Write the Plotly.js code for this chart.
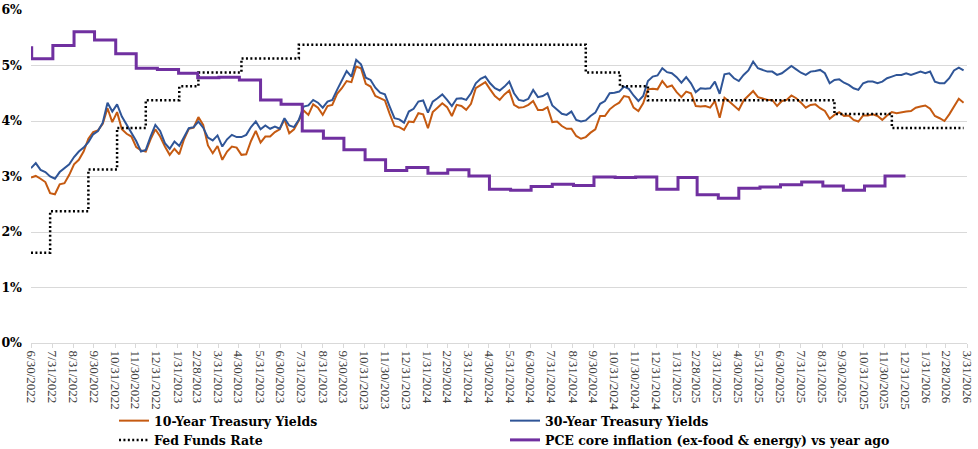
<!DOCTYPE html>
<html>
<head>
<meta charset="utf-8">
<script src="https://cdn.plot.ly/plotly-3.0.1.min.js"></script>
<style>html,body{margin:0;padding:0;background:#fff;}#chart{width:978px;height:449px;}</style>
</head>
<body>
<div id="chart"></div>
<script>
// Month-end tick labels (category text of the x axis)
const tickLabels = ['6/30/2022','7/31/2022','8/31/2022','9/30/2022','10/31/2022','11/30/2022','12/31/2022',
'1/31/2023','2/28/2023','3/31/2023','4/30/2023','5/31/2023','6/30/2023','7/31/2023','8/31/2023','9/30/2023','10/31/2023','11/30/2023','12/31/2023',
'1/31/2024','2/29/2024','3/31/2024','4/30/2024','5/31/2024','6/30/2024','7/31/2024','8/31/2024','9/30/2024','10/31/2024','11/30/2024','12/31/2024',
'1/31/2025','2/28/2025','3/31/2025','4/30/2025','5/31/2025','6/30/2025','7/31/2025','8/31/2025','9/30/2025','10/31/2025','11/30/2025','12/31/2025',
'1/31/2026','2/28/2026','3/31/2026'];

// Weekly observation dates for the Treasury yields
const yieldDates = [
'2022-06-30','2022-07-07','2022-07-14','2022-07-21','2022-07-28','2022-08-04','2022-08-11','2022-08-18','2022-08-25','2022-09-01',
'2022-09-08','2022-09-15','2022-09-22','2022-09-29','2022-10-06','2022-10-13','2022-10-20','2022-10-27','2022-11-03','2022-11-10',
'2022-11-17','2022-11-24','2022-12-01','2022-12-08','2022-12-15','2022-12-22','2022-12-29','2023-01-05','2023-01-12','2023-01-19',
'2023-01-26','2023-02-02','2023-02-09','2023-02-16','2023-02-23','2023-03-02','2023-03-09','2023-03-16','2023-03-23','2023-03-30',
'2023-04-06','2023-04-13','2023-04-20','2023-04-27','2023-05-04','2023-05-11','2023-05-18','2023-05-25','2023-06-01','2023-06-08',
'2023-06-15','2023-06-22','2023-06-29','2023-07-06','2023-07-13','2023-07-20','2023-07-27','2023-08-03','2023-08-10','2023-08-17',
'2023-08-24','2023-08-31','2023-09-07','2023-09-14','2023-09-21','2023-09-28','2023-10-05','2023-10-12','2023-10-19','2023-10-26',
'2023-11-02','2023-11-09','2023-11-16','2023-11-23','2023-11-30','2023-12-07','2023-12-14','2023-12-21','2023-12-28','2024-01-04',
'2024-01-11','2024-01-18','2024-01-25','2024-02-01','2024-02-08','2024-02-15','2024-02-22','2024-02-29','2024-03-07','2024-03-14',
'2024-03-21','2024-03-28','2024-04-04','2024-04-11','2024-04-18','2024-04-25','2024-05-02','2024-05-09','2024-05-16','2024-05-23',
'2024-05-30','2024-06-06','2024-06-13','2024-06-20','2024-06-27','2024-07-04','2024-07-11','2024-07-18','2024-07-25','2024-08-01',
'2024-08-08','2024-08-15','2024-08-22','2024-08-29','2024-09-05','2024-09-12','2024-09-19','2024-09-26','2024-10-03','2024-10-10',
'2024-10-17','2024-10-24','2024-10-31','2024-11-07','2024-11-14','2024-11-21','2024-11-28','2024-12-05','2024-12-12','2024-12-19',
'2024-12-26','2025-01-02','2025-01-09','2025-01-16','2025-01-23','2025-01-30','2025-02-06','2025-02-13','2025-02-20','2025-02-27',
'2025-03-06','2025-03-13','2025-03-20','2025-03-27','2025-04-03','2025-04-10','2025-04-17','2025-04-24','2025-05-01','2025-05-08',
'2025-05-15','2025-05-22','2025-05-29','2025-06-05','2025-06-12','2025-06-19','2025-06-26','2025-07-03','2025-07-10','2025-07-17',
'2025-07-24','2025-07-31','2025-08-07','2025-08-14','2025-08-21','2025-08-28','2025-09-04','2025-09-11','2025-09-18','2025-09-25',
'2025-10-02','2025-10-09','2025-10-16','2025-10-23','2025-10-30','2025-11-06','2025-11-13','2025-11-20','2025-11-27','2025-12-04',
'2025-12-11','2025-12-18','2025-12-25','2026-01-01','2026-01-08','2026-01-15','2026-01-22','2026-01-29','2026-02-05','2026-02-12',
'2026-02-19','2026-02-26','2026-03-05','2026-03-12','2026-03-19','2026-03-26'];

const tenYear = [
2.98,3.01,2.96,2.90,2.70,2.68,2.86,2.88,3.03,3.22,
3.30,3.45,3.68,3.80,3.83,3.95,4.23,3.98,4.16,3.85,
3.77,3.72,3.53,3.47,3.45,3.67,3.85,3.72,3.54,3.39,
3.50,3.40,3.67,3.86,3.88,4.07,3.93,3.56,3.42,3.55,
3.30,3.45,3.54,3.52,3.39,3.40,3.64,3.82,3.61,3.72,
3.72,3.80,3.85,4.03,3.78,3.85,4.01,4.19,4.11,4.30,
4.24,4.11,4.27,4.29,4.49,4.59,4.72,4.70,4.98,4.95,
4.67,4.62,4.45,4.41,4.37,4.13,3.91,3.89,3.84,3.99,
3.98,4.14,4.12,3.87,4.16,4.24,4.32,4.25,4.09,4.29,
4.27,4.20,4.31,4.59,4.64,4.70,4.57,4.45,4.38,4.48,
4.55,4.29,4.24,4.25,4.29,4.36,4.20,4.20,4.25,3.98,
3.99,3.91,3.86,3.86,3.73,3.68,3.71,3.79,3.85,4.09,
4.09,4.21,4.28,4.33,4.45,4.43,4.24,4.18,4.32,4.57,
4.58,4.57,4.72,4.61,4.64,4.52,4.43,4.53,4.50,4.27,
4.26,4.27,4.24,4.36,4.06,4.42,4.35,4.28,4.20,4.37,
4.45,4.54,4.43,4.40,4.38,4.38,4.27,4.36,4.38,4.46,
4.41,4.33,4.24,4.29,4.30,4.23,4.18,4.04,4.11,4.16,
4.09,4.10,4.02,3.99,4.10,4.10,4.12,4.09,4.02,4.10,
4.16,4.14,4.16,4.17,4.18,4.24,4.26,4.28,4.22,4.09,
4.05,4.00,4.12,4.25,4.40,4.33];

const thirtyYear = [
3.15,3.24,3.12,3.08,3.00,2.96,3.08,3.15,3.22,3.35,
3.45,3.52,3.62,3.76,3.82,3.97,4.33,4.17,4.30,4.08,
3.93,3.80,3.64,3.45,3.48,3.72,3.93,3.82,3.60,3.50,
3.63,3.55,3.71,3.87,3.89,3.99,3.88,3.70,3.65,3.74,
3.54,3.67,3.75,3.71,3.71,3.75,3.89,3.99,3.85,3.92,
3.86,3.90,3.86,4.05,3.92,3.89,4.02,4.26,4.28,4.38,
4.33,4.24,4.35,4.38,4.56,4.73,4.90,4.80,5.10,5.02,
4.78,4.74,4.60,4.51,4.48,4.26,4.05,4.03,3.97,4.17,
4.22,4.35,4.37,4.15,4.35,4.41,4.48,4.38,4.27,4.40,
4.41,4.38,4.50,4.68,4.76,4.80,4.68,4.59,4.55,4.62,
4.71,4.50,4.38,4.36,4.40,4.56,4.43,4.45,4.50,4.28,
4.20,4.13,4.11,4.17,4.02,3.99,4.01,4.09,4.15,4.31,
4.36,4.50,4.51,4.53,4.62,4.58,4.46,4.36,4.45,4.72,
4.80,4.82,4.95,4.88,4.86,4.79,4.69,4.79,4.68,4.52,
4.59,4.58,4.59,4.71,4.49,4.84,4.86,4.77,4.72,4.83,
4.91,5.07,4.95,4.92,4.89,4.89,4.83,4.86,4.92,4.99,
4.93,4.87,4.83,4.89,4.90,4.92,4.86,4.68,4.74,4.75,
4.69,4.65,4.59,4.56,4.68,4.71,4.71,4.68,4.71,4.77,
4.80,4.83,4.83,4.86,4.83,4.86,4.89,4.86,4.89,4.71,
4.68,4.68,4.77,4.91,4.96,4.91];

// Fed funds rate (target range midpoint), change dates
const fedDates = ['2022-06-30','2022-07-28','2022-09-22','2022-11-03','2022-12-15','2023-02-02','2023-03-02',
'2023-05-04','2023-07-27','2024-09-19','2024-11-08','2024-12-19','2025-09-18','2025-12-11','2026-03-26'];
const fedRate = [1.625,2.375,3.125,3.875,4.375,4.625,4.875,5.125,5.375,4.875,4.625,4.375,4.125,3.875,3.875];

// PCE core inflation (ex-food & energy), year over year, monthly
const pceDates = ['2022-06-30','2022-07-01','2022-08-01','2022-09-01','2022-10-01','2022-11-01','2022-12-01',
'2023-01-01','2023-02-01','2023-03-01','2023-04-01','2023-05-01','2023-06-01','2023-07-01','2023-08-01','2023-09-01','2023-10-01','2023-11-01','2023-12-01',
'2024-01-01','2024-02-01','2024-03-01','2024-04-01','2024-05-01','2024-06-01','2024-07-01','2024-08-01','2024-09-01','2024-10-01','2024-11-01','2024-12-01',
'2025-01-01','2025-02-01','2025-03-01','2025-04-01','2025-05-01','2025-06-01','2025-07-01','2025-08-01','2025-09-01','2025-10-01','2025-11-01','2025-12-01','2025-12-31'];
const pceCore = [5.32,5.12,5.36,5.61,5.46,5.21,4.95,
4.93,4.86,4.78,4.79,4.74,4.38,4.30,3.82,3.69,3.48,3.30,3.11,
3.16,3.06,3.12,3.01,2.77,2.75,2.82,2.86,2.84,2.99,2.98,2.99,
2.77,2.98,2.67,2.61,2.79,2.81,2.85,2.90,2.83,2.75,2.83,3.01,3.01];

const seriesNames = ['10-Year Treasury Yields','30-Year Treasury Yields','Fed Funds Rate','PCE core inflation (ex-food & energy) vs year ago'];

function toIso(lbl){const p=lbl.split('/');return p[2]+'-'+p[0].padStart(2,'0')+'-'+p[1].padStart(2,'0');}
const tickVals = tickLabels.map(toIso);

const serifBold = 'DejaVu Serif, Georgia, serif';
const serifThin = 'Liberation Serif, Times New Roman, serif';

const traces = [
 {x: yieldDates, y: tenYear, name: seriesNames[0], type:'scatter', mode:'lines',
  line:{color:'#C55A11', width:2}},
 {x: yieldDates, y: thirtyYear, name: seriesNames[1], type:'scatter', mode:'lines',
  line:{color:'#2F5597', width:2}},
 {x: fedDates, y: fedRate, name: seriesNames[2], type:'scatter', mode:'lines',
  line:{color:'#000000', width:2.5, dash:'2px,2.4px', shape:'hv'}},
 {x: pceDates, y: pceCore, name: seriesNames[3], type:'scatter', mode:'lines',
  line:{color:'#7030A0', width:3, shape:'hv'}}
];

const layout = {
 width: 978, height: 449,
 margin: {l:31, r:11, t:10, b:0, pad:0, autoexpand:false},
 paper_bgcolor:'#ffffff', plot_bgcolor:'#ffffff',
 showlegend: true,
 legend: {orientation:'h', x:0.0887, xanchor:'left', y:-0.0137, yanchor:'bottom',
  entrywidth: 346, entrywidthmode:'pixels', tracegroupgap:0,
  font:{family: serifBold, size:12.5, color:'#000000', weight:'bold'}, bgcolor:'rgba(0,0,0,0)'},
 xaxis: {type:'date', range:['2022-06-30','2026-03-31'], tickmode:'array', tickvals: tickVals, ticktext: tickLabels,
  tickangle: 90, tickfont:{family: serifThin, size:13, color:'#404040'},
  ticks:'outside', ticklen:4, tickcolor:'#d9d9d9', tickwidth:1,
  showline:true, linecolor:'#d9d9d9', linewidth:1, showgrid:false, zeroline:false, automargin:false, fixedrange:true},
 yaxis: {domain:[0.24146, 1], range:[0,6], tickmode:'linear', tick0:0, dtick:1, ticksuffix:'%',
  tickfont:{family: serifBold, size:12.5, color:'#000000', weight:'bold'},
  showgrid:true, gridcolor:'#d9d9d9', gridwidth:1, zeroline:false, showline:false, ticks:'',
  ticklabelstandoff: 8, automargin:false, fixedrange:true}
};

Plotly.newPlot('chart', traces, layout, {staticPlot:true, displayModeBar:false});
</script>
</body>
</html>
